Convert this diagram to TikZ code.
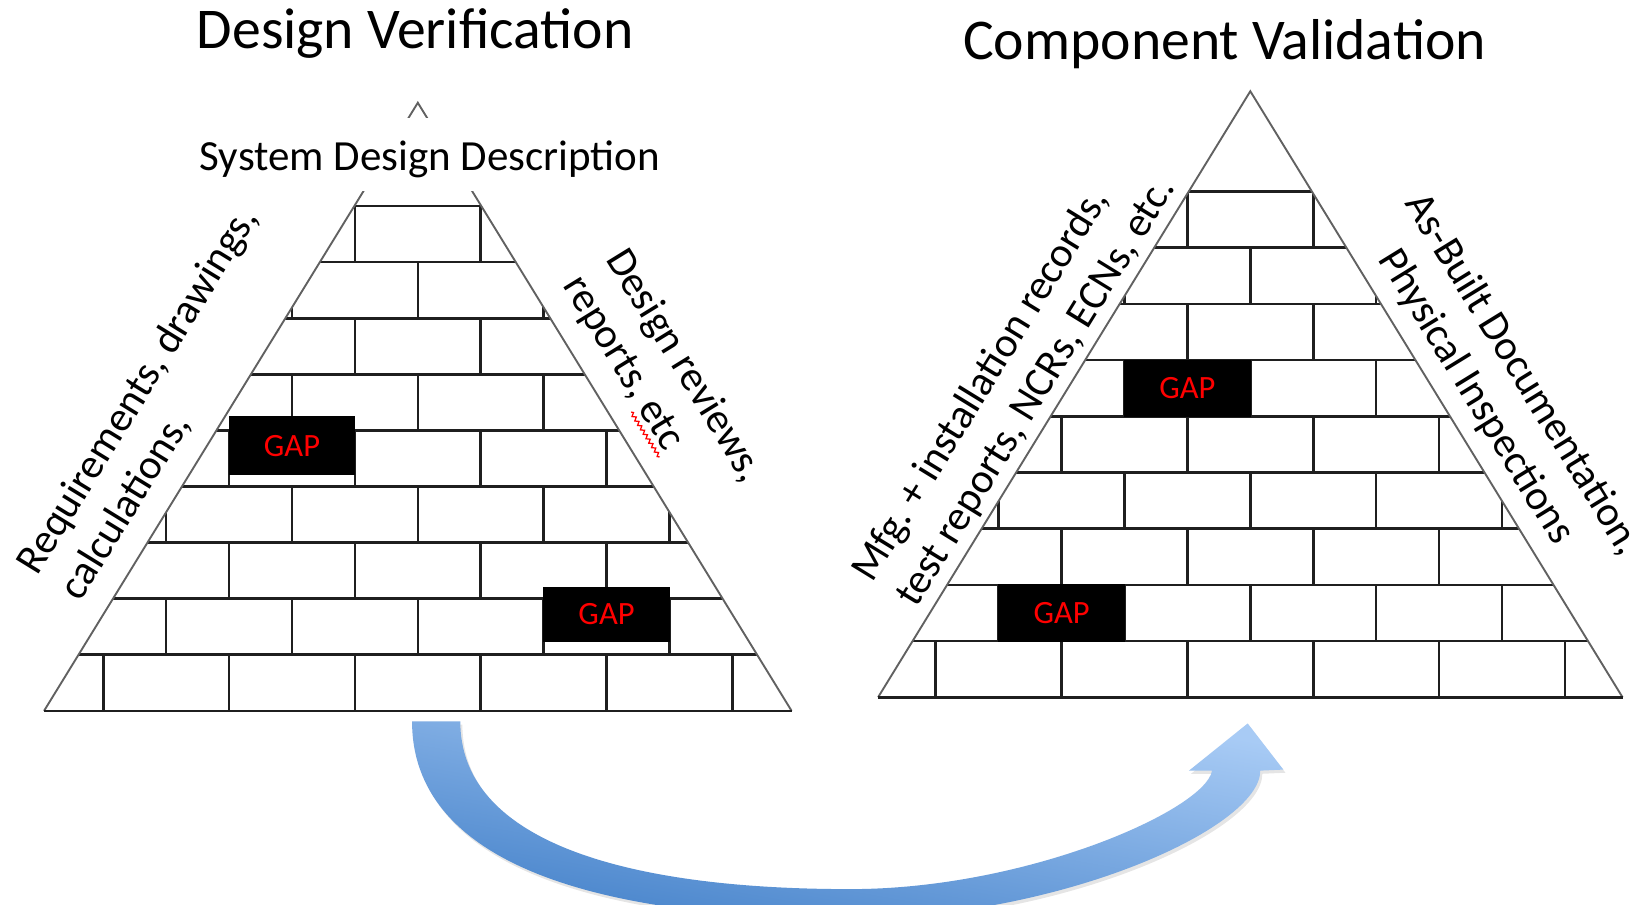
\documentclass[tikz,border=0pt]{standalone}
\usepackage{fontspec}
\setmainfont{Carlito}
\frenchspacing
\usetikzlibrary{decorations.pathmorphing}
\definecolor{arrlight}{HTML}{A8CBF5}
\definecolor{arrdark}{HTML}{4582CA}
\begin{document}
\begin{tikzpicture}[x=1pt,y=-1pt,
  brick/.style={line width=2.5pt, draw=black!88},
  side/.style={line width=1.8pt, draw=black!62},
  gapbox/.style={fill=black, draw=black, line width=1pt, text=red, font=\fontsize{31}{36}\selectfont, inner sep=0pt},
  title/.style={font=\fontsize{55}{64}\selectfont, anchor=base},
  lab/.style={font=\fontsize{40}{48}\selectfont, anchor=base west, inner sep=0pt}]
\useasboundingbox (0,0) rectangle (1568,863);
\fill[white] (0,0) rectangle (1568,863);

% ---------- left pyramid ----------
\begin{scope}
  \clip (42,678) -- (398.5,98) -- (755,678) -- cycle;
  \foreach \k in {1,...,9} {\draw[brick] (0,{678-\k*53.5}) -- (800,{678-\k*53.5});}
  \foreach \r in {0,...,8} {
    \pgfmathsetmacro\yb{678-\r*53.5}
    \pgfmathsetmacro\yt{678-(\r+1)*53.5}
    \pgfmathsetmacro\off{ifthenelse(mod(\r,2)==0,60,0)}
    \foreach \k in {-4,...,4} {\draw[brick] ({398.5+\off+120*\k},\yb) -- ({398.5+\off+120*\k},\yt);}
  }
\end{scope}
\draw[side] (42,678) -- (398.5,98) -- (755,678);
\draw[brick] (42,678) -- (755,678);
\fill[white] (300,113) rectangle (500,182);
\node[font=\fontsize{41}{48}\selectfont, anchor=base, inner sep=0pt] (sdd) at (410,163) {System Design Description};

\node[gapbox, minimum width=120pt, minimum height=56pt] (gap1) at (278.5,425) {GAP};
\node[gapbox, minimum width=120pt, minimum height=52pt] (gap2) at (578.5,586) {GAP};

% ---------- right pyramid ----------
\begin{scope}
  \clip (837.5,665) -- (1192.5,87) -- (1547.5,665) -- cycle;
  \foreach \k in {1,...,9} {\draw[brick] (800,{665-\k*53.6}) -- (1600,{665-\k*53.6});}
  \foreach \r in {0,...,8} {
    \pgfmathsetmacro\yb{665-\r*53.6}
    \pgfmathsetmacro\yt{665-(\r+1)*53.6}
    \pgfmathsetmacro\off{ifthenelse(mod(\r,2)==0,60,0)}
    \foreach \k in {-4,...,4} {\draw[brick] ({1192.5+\off+120*\k},\yb) -- ({1192.5+\off+120*\k},\yt);}
  }
\end{scope}
\draw[side] (837.5,665) -- (1192.5,87) -- (1547.5,665);
\draw[brick] (837.5,665) -- (1547.5,665);

\node[gapbox, minimum width=120pt, minimum height=53.6pt] (gap3) at (1132.5,370.2) {GAP};
\node[gapbox, minimum width=120pt, minimum height=53.6pt] (gap4) at (1012.5,584.6) {GAP};

% ---------- titles ----------
\node[title] (dv) at (396,46) {Design Verification};
\node[title] (cv) at (1168,57) {Component Validation};

% ---------- side labels ----------
\node[lab, rotate=58.4] (l1) at (36,550) {Requirements, drawings,};
\node[lab, rotate=58.4] (l2) at (77,575) {calculations,};
\node[lab, rotate=-58.4] (r1) at (577,247) {Design reviews,};
\node[lab, rotate=-58.4] (r2) at (536,272) {reports, etc};
\draw[red, line width=1.2pt, decorate, decoration={snake, amplitude=1.6pt, segment length=5pt}] (602,393) -- (629,436);

\node[lab, rotate=58.4] (m1) at (832,557) {Mfg. + installation records,};
\node[lab, rotate=58.4] (m2) at (874,581) {test reports, NCRs, ECNs, etc.};
\node[lab, rotate=-58.4] (a1) at (1339,194) {As-Built Documentation,};
\node[lab, rotate=-58.4] (a2) at (1314,247) {Physical Inspections};

% ---------- curved arrow ----------
\def\arrowpath{(393,688) .. controls (393,820) and (560,876) .. (811,876)
  .. controls (1010,876) and (1202,790) .. (1202,735)
  -- (1224,734) -- (1190,690) -- (1134,735) -- (1156,735)
  .. controls (1150,772) and (980,848) .. (811,848)
  .. controls (590,848) and (439,800) .. (439,688) -- cycle}
\begin{scope}[shift={(2,3)}]
  \fill[black, opacity=0.10] \arrowpath;
\end{scope}
\shade[top color=arrlight, bottom color=arrdark, shading angle=-10] \arrowpath;
\end{tikzpicture}
\end{document}
